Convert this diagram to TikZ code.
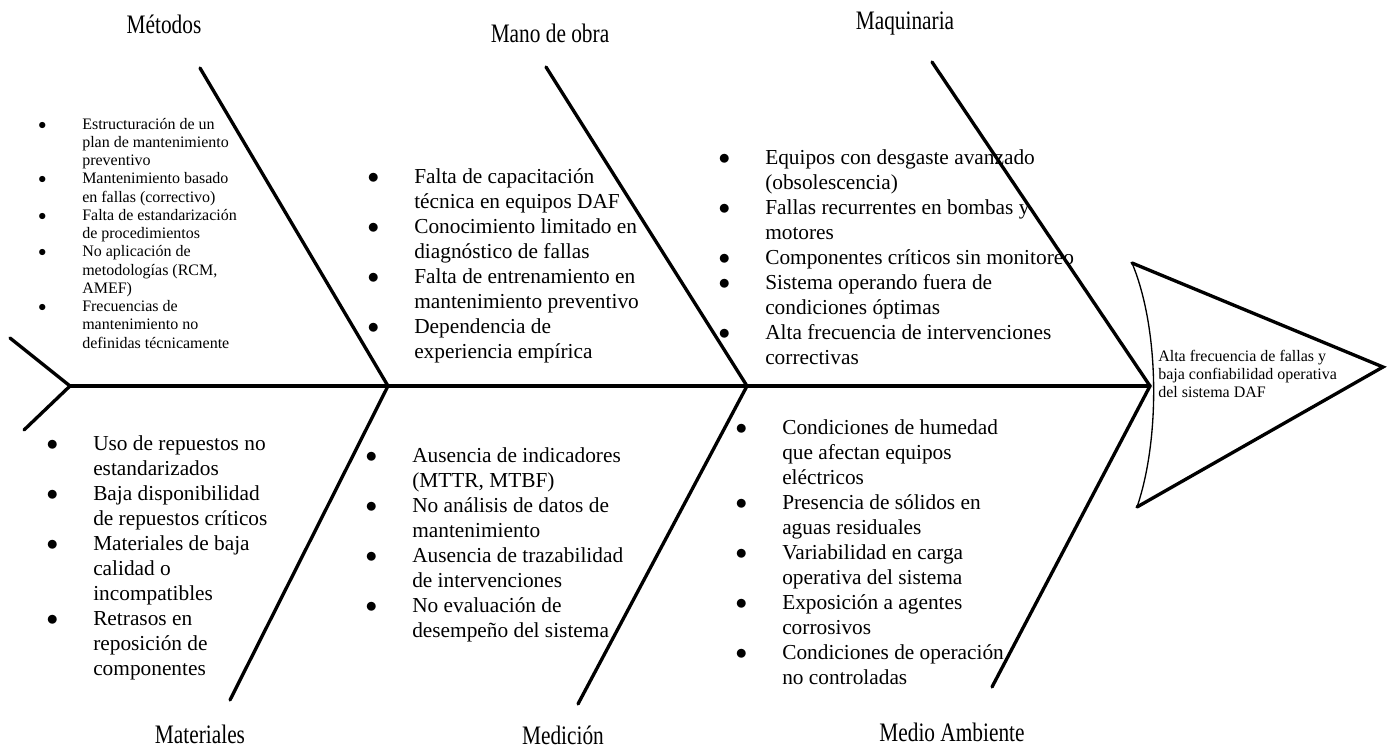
\documentclass[tikz,border=0pt]{standalone}
\usepackage{fontspec}
\setmainfont{Liberation Serif}
\newfontfamily\fuenterotulo[FakeStretch=0.8]{Liberation Serif}

\tikzset{
  hueso/.style={line width=2.5pt, line cap=round},
  rotulo/.style={inner sep=0pt, font=\fuenterotulo\fontsize{20}{22}\selectfont},
  causas/.style={anchor=base west, inner sep=0pt, font=\fontsize{16}{18.75}\selectfont},
  causaschicas/.style={causas, font=\fontsize{12}{13.7}\selectfont}
}
\newcommand{\vin}[1][35pt]{\llap{\makebox[#1][l]{$\bullet$}}}
\newcommand{\lista}[1]{\begin{tabular}[t]{@{}l@{}}#1\end{tabular}}

\begin{document}
\begin{tikzpicture}[x=0.75pt, y=-0.75pt]
  \useasboundingbox (0,0) rectangle (1392,749);

  % espina central y cola
  \coordinate (cola) at (70,386);
  \coordinate (colasup) at (10,338);
  \coordinate (colainf) at (24,430);
  \coordinate (j1) at (388,386);
  \coordinate (j2) at (747,386);
  \coordinate (j3) at (1150,386);
  \draw[hueso] (colasup) -- (cola) -- (colainf);
  \draw[hueso] (cola) -- (j3);

  % huesos de arriba
  \coordinate (met) at (200,68);
  \coordinate (mano) at (546,67);
  \coordinate (maq) at (932,62);
  \draw[hueso] (met) -- (j1);
  \draw[hueso] (mano) -- (j2);
  \draw[hueso] (maq) -- (j3);

  % huesos de abajo
  \coordinate (mat) at (230,700);
  \coordinate (med) at (578,704);
  \coordinate (amb) at (992,687);
  \draw[hueso] (j1) -- (mat);
  \draw[hueso] (j2) -- (med);
  \draw[hueso] (j3) -- (amb);

  % cabeza
  \coordinate (cabsup) at (1132,263);
  \coordinate (punta) at (1383,367);
  \coordinate (cabinf) at (1137,507);
  \draw[hueso] (cabsup) -- (punta) -- (cabinf);
  \draw[line width=1pt] (cabsup) .. controls (1160,330) and (1160,440) .. (cabinf);
  \node[causaschicas] (efecto) at (1158,361) {\lista{Alta frecuencia de fallas y\\
    baja confiabilidad operativa\\ del sistema DAF}};

  % rotulos
  \node[rotulo] (rmet) at (164,24) {Métodos};
  \node[rotulo] (rmano) at (550,33) {Mano de obra};
  \node[rotulo] (rmaq) at (905,24) {Maquinaria};
  \node[rotulo] (rmat) at (200,734) {Materiales};
  \node[rotulo] (rmed) at (563,735) {Medición};
  \node[rotulo] (ramb) at (952,732) {Medio Ambiente};

  % causas
  \node[causaschicas] (cmet) at (82,129) {\lista{%
    \vin[33pt]Estructuración de un\\ plan de mantenimiento\\ preventivo\\
    \vin[33pt]Mantenimiento basado\\ en fallas (correctivo)\\
    \vin[33pt]Falta de estandarización\\ de procedimientos\\
    \vin[33pt]No aplicación de\\ metodologías (RCM,\\ AMEF)\\
    \vin[33pt]Frecuencias de\\ mantenimiento no\\ definidas técnicamente}};

  \node[causas] (cmano) at (414,183) {\lista{%
    \vin Falta de capacitación\\ técnica en equipos DAF\\
    \vin Conocimiento limitado en\\ diagnóstico de fallas\\
    \vin Falta de entrenamiento en\\ mantenimiento preventivo\\
    \vin Dependencia de\\ experiencia empírica}};

  \node[causas] (cmaq) at (765,164) {\lista{%
    \vin Equipos con desgaste avanzado\\ (obsolescencia)\\
    \vin Fallas recurrentes en bombas y\\ motores\\
    \vin Componentes críticos sin monitoreo\\
    \vin Sistema operando fuera de\\ condiciones óptimas\\
    \vin Alta frecuencia de intervenciones\\ correctivas}};

  \node[causas] (cmat) at (93,450) {\lista{%
    \vin Uso de repuestos no\\ estandarizados\\
    \vin Baja disponibilidad\\ de repuestos críticos\\
    \vin Materiales de baja\\ calidad o\\ incompatibles\\
    \vin Retrasos en\\ reposición de\\ componentes}};

  \node[causas] (cmed) at (412,462) {\lista{%
    \vin Ausencia de indicadores\\ (MTTR, MTBF)\\
    \vin No análisis de datos de\\ mantenimiento\\
    \vin Ausencia de trazabilidad\\ de intervenciones\\
    \vin No evaluación de\\ desempeño del sistema}};

  \node[causas] (camb) at (782,434) {\lista{%
    \vin Condiciones de humedad\\ que afectan equipos\\ eléctricos\\
    \vin Presencia de sólidos en\\ aguas residuales\\
    \vin Variabilidad en carga\\ operativa del sistema\\
    \vin Exposición a agentes\\ corrosivos\\
    \vin Condiciones de operación\\ no controladas}};
\end{tikzpicture}
\end{document}
